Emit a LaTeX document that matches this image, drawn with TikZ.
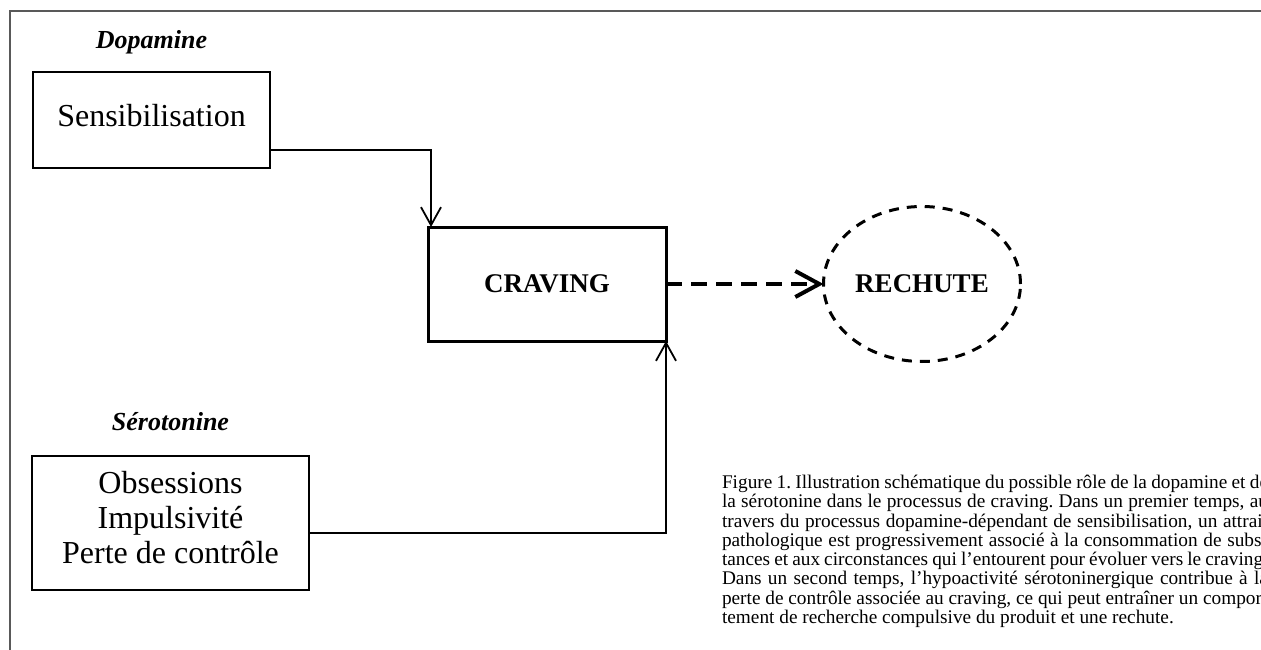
\documentclass[tikz,border=0pt]{standalone}
\usepackage{fontspec}
\setmainfont{Liberation Serif}
\usetikzlibrary{shapes.geometric,positioning,arrows.meta}
\newcommand{\capline}[1]{\makebox[546pt][s]{#1}}

\begin{document}
\frenchspacing
\begin{tikzpicture}[x=1pt, y=-1pt, every node/.style={outer sep=0pt},
    box/.style={draw, line width=2pt, inner sep=0pt},
    lbl/.style={font=\fontsize{26}{30}\selectfont\bfseries\itshape, inner sep=0pt},
    arr/.style={line width=1.8pt, -{Straight Barb[length=18pt,width=20pt]}}]
    \useasboundingbox (0,0) rectangle (1261,650);
    \draw [line width=1.5pt, black!65] (10,650) -- (10,11) -- (1261,11);
    % boxes
    \node (sens) [box, minimum width=237pt, minimum height=96pt, text depth=10pt, font=\fontsize{32}{35}\selectfont] at (151.5,120) {Sensibilisation};
    \node (obs) [box, minimum width=277pt, minimum height=134pt, align=center, font=\fontsize{32}{35}\selectfont, text depth=12pt] at (170.5,523) {Obsessions\\Impulsivité\\Perte de contrôle};
    \node (crav) [box, line width=3pt, minimum width=238pt, minimum height=114pt, font=\fontsize{27}{30}\selectfont\bfseries] at (547,284) {CRAVING};
    \node (rech) [ellipse, draw, dash pattern=on 10pt off 8pt, line width=3pt, minimum width=197pt, minimum height=155pt, inner sep=0pt, font=\fontsize{27}{30}\selectfont\bfseries] at (922,284) {RECHUTE};
    \node (dopa) [lbl, above=18pt of sens] {Dopamine};
    \node (sero) [lbl, above=25pt of obs] {Sérotonine};
    % arrows
    \draw [arr] ([yshift=18pt]sens.south east) -| ([xshift=3pt]crav.north west);
    \draw [arr] ([yshift=-10pt]obs.east) -| (crav.south east);
    \draw [line width=4pt, dash pattern=on 16pt off 9pt, -{Straight Barb[length=24pt,width=26pt]}] (crav.east) -- (rech.west);
    % caption
    \begin{scope}
      \clip (0,0) rectangle (1261,650);
      \node (capt) [anchor=north west, inner sep=0pt, align=left, font=\fontsize{19.3}{19.3}\selectfont] at (722,475) {%
        \capline{Figure 1. Illustration schématique du possible rôle de la dopamine et de}\\
        \capline{la sérotonine dans le processus de craving. Dans un premier temps, au}\\
        \capline{travers du processus dopamine-dépendant de sensibilisation, un attrait}\\
        \capline{pathologique est progressivement associé à la consommation de subs-}\\
        \capline{tances et aux circonstances qui l’entourent pour évoluer vers le craving.}\\
        \capline{Dans un second temps, l’hypoactivité sérotoninergique contribue à la}\\
        \capline{perte de contrôle associée au craving, ce qui peut entraîner un compor-}\\
        tement de recherche compulsive du produit et une rechute.};
    \end{scope}
\end{tikzpicture}
\end{document}
